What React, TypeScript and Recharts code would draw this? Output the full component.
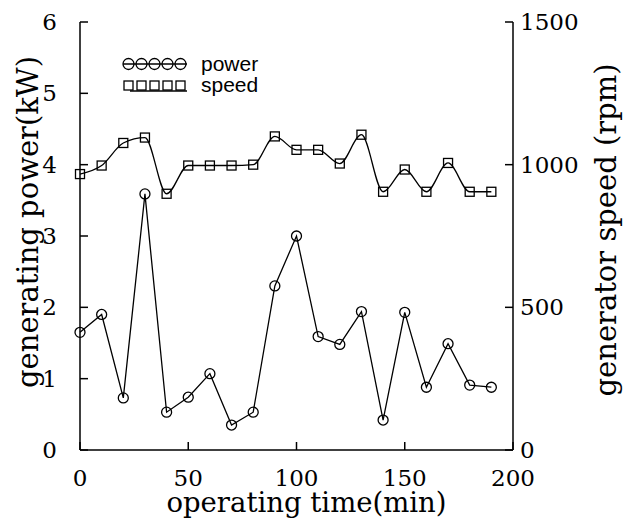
import React from "react"
import { LineChart, Line, XAxis, YAxis, Legend } from "recharts"

// operating time (min), one reading every 10 min
const time = [0, 10, 20, 30, 40, 50, 60, 70, 80, 90, 100, 110, 120, 130, 140, 150, 160, 170, 180, 190]
// generating power (kW)
const power = [1.65, 1.9, 0.73, 3.59, 0.53, 0.74, 1.07, 0.35, 0.53, 2.3, 3.0, 1.59, 1.48, 1.94, 0.42, 1.93, 0.88, 1.49, 0.91, 0.88]
// generator speed (rpm)
const speed = [967, 997, 1076, 1095, 898, 997, 997, 997, 1000, 1099, 1052, 1052, 1004, 1105, 905, 983, 905, 1006, 905, 905]

const timeTicks = [0, 50, 100, 150, 200]
const powerTicks = [0, 1, 2, 3, 4, 5, 6]
const speedTicks = [0, 500, 1000, 1500]

const data = time.map((t, i) => ({ time: t, power: power[i], speed: speed[i] }))

const INK = "#000"
const SERIF = "'DejaVu Serif', serif"
const TICK_LEN = 8
// gaps between axis line and tick label
const GAP_X = 20
const GAP_L = 23
const GAP_R = 7

// ticks point into the plot, so the tick mark is drawn together with its label
function BottomTick(props: any) {
  const { x, y, payload } = props
  const axisY = Number(y) - GAP_X
  return (
    <g>
      <path d={`M${x},${axisY}V${axisY - TICK_LEN}`} stroke={INK} strokeWidth={1.5} fill="none" />
      <text x={x} y={y} dy="0.71em" textAnchor="middle" fontFamily={SERIF} fontSize={23} fill={INK}>
        {payload.value}
      </text>
    </g>
  )
}

function LeftTick(props: any) {
  const { x, y, payload } = props
  const axisX = Number(x) + GAP_L
  return (
    <g>
      <path d={`M${axisX},${y}H${axisX + TICK_LEN}`} stroke={INK} strokeWidth={1.5} fill="none" />
      <text x={x} y={y} dy="0.355em" textAnchor="end" fontFamily={SERIF} fontSize={23} fill={INK}>
        {payload.value}
      </text>
    </g>
  )
}

function RightTick(props: any) {
  const { x, y, payload } = props
  const axisX = Number(x) - GAP_R
  return (
    <g>
      <path d={`M${axisX},${y}H${axisX - TICK_LEN}`} stroke={INK} strokeWidth={1.5} fill="none" />
      <text x={x} y={y} dy="0.355em" textAnchor="start" fontFamily={SERIF} fontSize={23} fill={INK}>
        {payload.value}
      </text>
    </g>
  )
}

// hollow square marker for the speed series
const SquareDot = (props: any) => {
  const { cx, cy } = props
  if (cx == null || cy == null) return null
  return <rect x={cx - 4.5} y={cy - 4.5} width={9} height={9} fill="none" stroke={INK} strokeWidth={1.3} />
}

// legend drawn like the original: a row of markers on a line, then the name
const renderLegend = () => {
  const xs = [8.5, 21.5, 34.5, 47.5, 60.5]
  return (
    <svg width={160} height={44} style={{ display: "block", overflow: "visible" }}>
      <line x1={3} y1={8} x2={67} y2={8} stroke={INK} strokeWidth={1.3} />
      {xs.map((x) => (
        <circle key={"c" + x} cx={x} cy={8} r={5.5} fill="none" stroke={INK} strokeWidth={1.3} />
      ))}
      <text x={81} y={15} fontFamily="'Liberation Sans', sans-serif" fontSize={21} fill={INK}>power</text>
      {xs.map((x) => (
        <rect key={"s" + x} x={x - 4.5} y={25} width={9} height={9} fill="none" stroke={INK} strokeWidth={1.3} />
      ))}
      <line x1={10} y1={35} x2={67} y2={35} stroke={INK} strokeWidth={1.3} />
      <text x={81} y={36} fontFamily="'Liberation Sans', sans-serif" fontSize={21} fill={INK}>speed</text>
    </svg>
  )
}

export default function App() {
  return (
    <div style={{ width: 627, height: 510 }}>
      <LineChart width={627} height={510} data={data} margin={{ top: 14, right: 0, bottom: 0, left: 0 }}>
        <XAxis
          dataKey="time"
          type="number"
          domain={[0, 200]}
          ticks={timeTicks}
          height={68}
          stroke={INK}
          strokeWidth={1.5}
          tickSize={0}
          tickMargin={GAP_X}
          tickLine={false}
          tick={(p: any) => <BottomTick {...p} />}
          label={{
            value: "operating time(min)",
            position: "insideBottom",
            offset: 6,
            dx: 10,
            style: { fontFamily: SERIF, fontSize: 27.5, fill: INK },
          }}
        />
        <XAxis xAxisId="top" dataKey="time" type="number" domain={[0, 200]} orientation="top" height={0} tick={false} tickLine={false} stroke={INK} strokeWidth={1.5} />
        <YAxis
          yAxisId="power"
          domain={[0, 6]}
          ticks={powerTicks}
          width={72}
          stroke={INK}
          strokeWidth={1.5}
          tickSize={0}
          tickMargin={GAP_L}
          tickLine={false}
          tick={(p: any) => <LeftTick {...p} />}
          label={{
            value: "generating power(kW)",
            angle: -90,
            position: "insideLeft",
            offset: 20,
            dy: -14,
            style: { textAnchor: "middle", fontFamily: SERIF, fontSize: 29, fill: INK },
          }}
        />
        <YAxis
          yAxisId="speed"
          orientation="right"
          domain={[0, 1500]}
          ticks={speedTicks}
          width={122}
          stroke={INK}
          strokeWidth={1.5}
          tickSize={0}
          tickMargin={GAP_R}
          tickLine={false}
          tick={(p: any) => <RightTick {...p} />}
          label={{
            value: "generator speed (rpm)",
            angle: -90,
            position: "insideRight",
            offset: 29,
            dy: -6,
            style: { textAnchor: "middle", fontFamily: SERIF, fontSize: 29, fill: INK },
          }}
        />
        <Legend
          layout="vertical"
          align="center"
          verticalAlign="middle"
          content={renderLegend}
          wrapperStyle={{ left: 112, top: 48, width: 160, height: 44 }}
        />
        <Line
          yAxisId="power"
          dataKey="power"
          type="linear"
          stroke={INK}
          strokeWidth={1.3}
          dot={{ r: 5, fill: "none", stroke: INK, strokeWidth: 1.3 }}
          activeDot={false}
          isAnimationActive={false}
        />
        <Line
          yAxisId="speed"
          dataKey="speed"
          type="monotone"
          stroke={INK}
          strokeWidth={1.3}
          dot={<SquareDot />}
          activeDot={false}
          isAnimationActive={false}
        />
      </LineChart>
    </div>
  )
}
